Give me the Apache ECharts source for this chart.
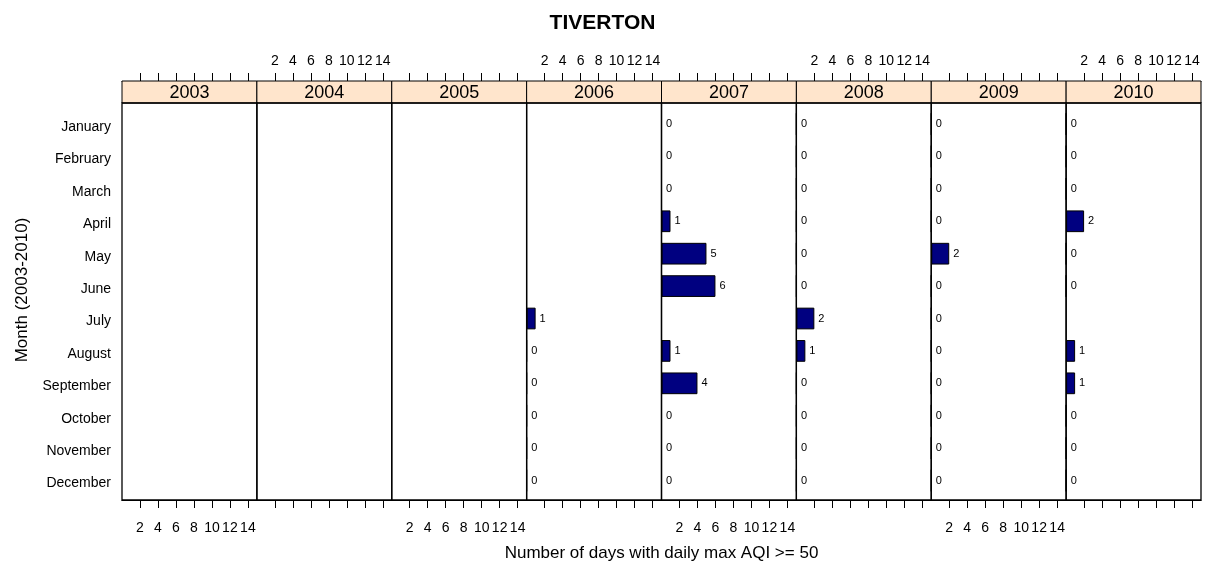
<!DOCTYPE html>
<html>
<head>
<meta charset="utf-8">
<script src="https://cdn.jsdelivr.net/npm/echarts@6/dist/echarts.min.js"></script>
<style>html,body{margin:0;padding:0;background:#fff;}#c{width:1205px;height:571px;}</style>
</head>
<body>
<div id="c"></div>
<script>
// ---- data ----
const months = ['January','February','March','April','May','June','July','August','September','October','November','December'];
const years = ['2003','2004','2005','2006','2007','2008','2009','2010'];
const tickValues = [2,4,6,8,10,12,14];
const v2003 = [null,null,null,null,null,null,null,null,null,null,null,null];
const v2004 = [null,null,null,null,null,null,null,null,null,null,null,null];
const v2005 = [null,null,null,null,null,null,null,null,null,null,null,null];
const v2006 = [null,null,null,null,null,null,1,0,0,0,0,0];
const v2007 = [0,0,0,1,5,6,null,1,4,0,0,0];
const v2008 = [0,0,0,0,0,0,2,1,0,0,0,0];
const v2009 = [0,0,0,0,2,0,0,0,0,0,0,0];
const v2010 = [0,0,0,2,0,0,null,1,1,0,0,0];
const yearValues = [v2003,v2004,v2005,v2006,v2007,v2008,v2009,v2010];

// ---- layout ----
const FONT = 'Liberation Sans, Arial, sans-serif';
const LEFT = 122, RIGHT = 1201, N = years.length;
const PW = (RIGHT - LEFT) / N;
const PANEL_TOP = 103, PANEL_BOTTOM = 500, STRIP_TOP = 81;
const band = (PANEL_BOTTOM - PANEL_TOP) / 12.25;
const gridTop = PANEL_TOP + band * 0.125 + 0.8;
const gridH = band * 12;

const grids = [], xAxes = [], yAxes = [], series = [], graphics = [];
for (let i = 0; i < N; i++) {
  const left = LEFT + i * PW;
  grids.push({left: left, top: gridTop, width: PW, height: gridH});
  const common = {
    gridIndex: i, type: 'value', min: 0, max: 15, interval: 2,
    splitLine: {show: false},
    axisLine: {show: true, lineStyle: {color: '#000', width: 1}},
    axisTick: {show: true, length: 8, inside: false, customValues: tickValues, lineStyle: {color: '#000'}},
  };
  xAxes.push(Object.assign({}, common, {
    position: 'bottom', offset: PANEL_BOTTOM - (gridTop + gridH),
    axisLabel: {show: i % 2 === 0, customValues: tickValues, margin: 21, fontSize: 14, color: '#000', fontFamily: FONT}
  }));
  xAxes.push(Object.assign({}, common, {
    position: 'top', offset: gridTop - STRIP_TOP,
    axisLabel: {show: i % 2 === 1, customValues: tickValues, margin: 13, fontSize: 14, color: '#000', fontFamily: FONT}
  }));
  yAxes.push({
    gridIndex: i, type: 'category', data: months, inverse: true,
    axisLine: {show: false}, axisTick: {show: false}, splitLine: {show: false},
    axisLabel: {show: i === 0, margin: 11, fontSize: 14, color: '#000', fontFamily: FONT, verticalAlign: 'top', lineHeight: 6}
  });
  series.push({
    type: 'bar', xAxisIndex: 2 * i, yAxisIndex: i,
    data: yearValues[i].map(v => v === null ? '-' : v),
    barWidth: '67%',
    itemStyle: {color: '#000080', borderColor: '#000', borderWidth: 1},
    label: {show: true, position: 'right', distance: 4, fontSize: 11, color: '#000', fontFamily: FONT},
    animation: false, silent: true
  });
  // panel frame
  graphics.push({type: 'rect', shape: {x: left, y: PANEL_TOP, width: PW, height: PANEL_BOTTOM - PANEL_TOP},
    style: {fill: 'none', stroke: '#000', lineWidth: 1.3}, z: 10});
  // strip
  graphics.push({type: 'rect', shape: {x: left, y: STRIP_TOP, width: PW, height: PANEL_TOP - STRIP_TOP},
    style: {fill: '#FFE5CC', stroke: '#000', lineWidth: 1}, z: 9});
  graphics.push({type: 'text', x: left + PW / 2, y: (STRIP_TOP + PANEL_TOP) / 2 + 1,
    style: {text: years[i], fontSize: 18, fontFamily: FONT, fill: '#000', textAlign: 'center', textVerticalAlign: 'middle'}, z: 11});
}
graphics.push({type: 'text', x: (LEFT + RIGHT) / 2, y: 553,
  style: {text: 'Number of days with daily max AQI >= 50', fontSize: 17, fontFamily: FONT, fill: '#000', textAlign: 'center', textVerticalAlign: 'middle'}});
graphics.push({type: 'text', x: 22, y: 290, rotation: Math.PI / 2,
  style: {text: 'Month (2003-2010)', fontSize: 17, fontFamily: FONT, fill: '#000', textAlign: 'center', textVerticalAlign: 'middle'}});

const chart = echarts.init(document.getElementById('c'), null, {renderer: 'canvas'});
chart.setOption({
  animation: false,
  backgroundColor: '#fff',
  title: {text: 'TIVERTON', left: 'center', top: 8, textStyle: {fontSize: 21, fontWeight: 'bold', fontFamily: FONT, color: '#000'}},
  grid: grids, xAxis: xAxes, yAxis: yAxes, series: series, graphic: graphics
});
</script>
</body>
</html>
